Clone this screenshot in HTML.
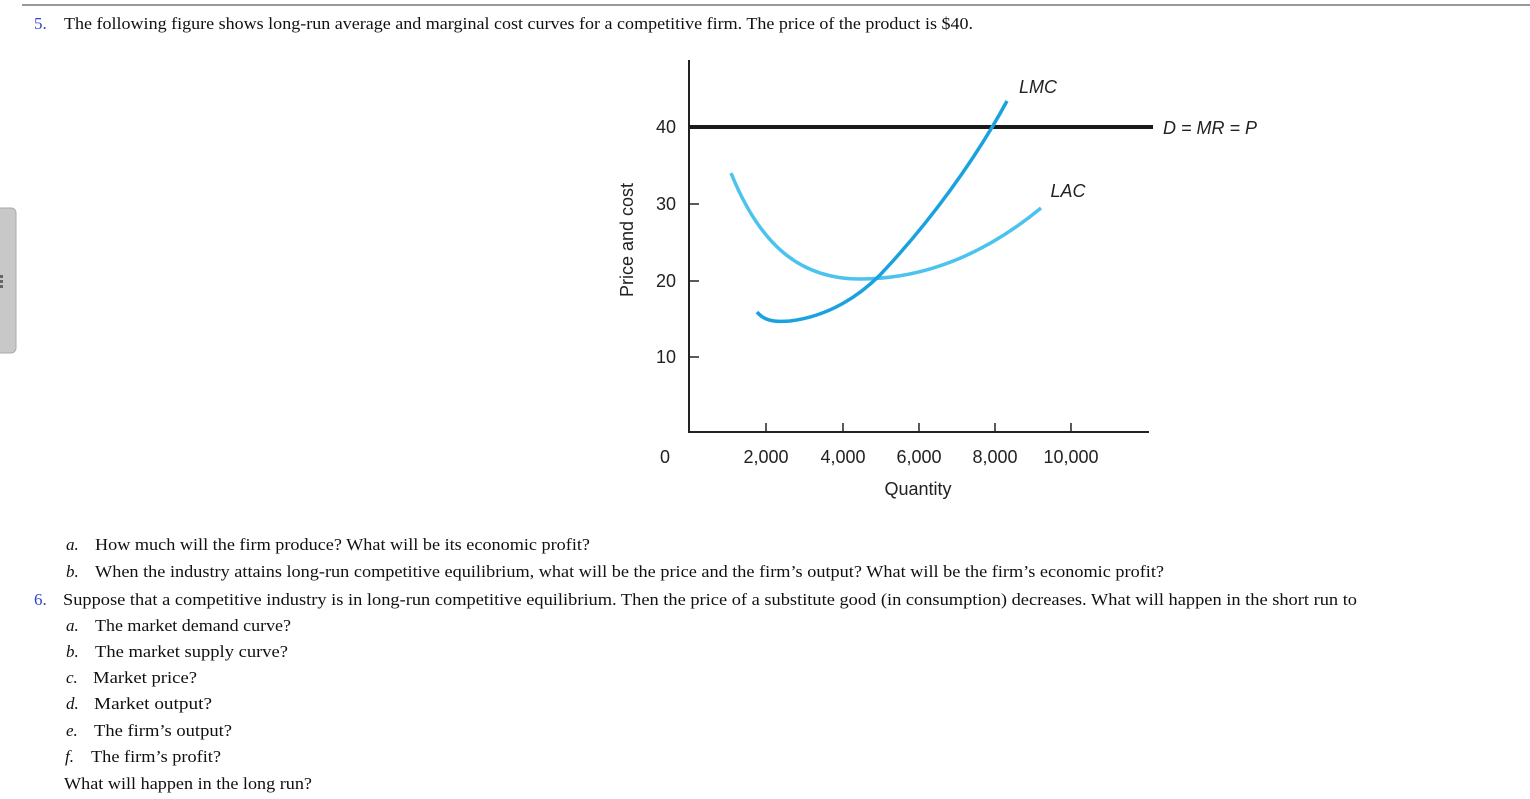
<!DOCTYPE html>
<html><head><meta charset="utf-8"><style>
html,body{margin:0;padding:0;background:#fff;}
svg{display:block;}
.s{font-family:"Liberation Serif",serif;font-size:17px;fill:#111;}
.n{font-family:"Liberation Sans",sans-serif;font-size:18px;fill:#222;}
.i{font-style:italic;}
</style></head><body>
<svg width="1530" height="799" viewBox="0 0 1530 799" xmlns="http://www.w3.org/2000/svg">
<line x1="22" y1="5" x2="1530" y2="5" stroke="#999" stroke-width="2"/>
<rect x="-8" y="208" width="24" height="145" rx="5" fill="#c8c8c8" stroke="#aaa"/>
<g fill="#666"><rect x="0" y="275" width="3" height="3"/><rect x="0" y="280" width="3" height="3"/><rect x="0" y="285" width="3" height="3"/></g>
<text x="34" y="29" class="s" style="fill:#3344cc">5.</text>
<text x="64" y="29" class="s" textLength="909" lengthAdjust="spacingAndGlyphs">The following figure shows long-run average and marginal cost curves for a competitive firm. The price of the product is $40.</text>

<line x1="689" y1="60" x2="689" y2="433" stroke="#222" stroke-width="2"/>
<line x1="688" y1="432" x2="1149" y2="432" stroke="#222" stroke-width="2"/>
<g stroke="#222" stroke-width="1.5">
<line x1="689" y1="204" x2="699" y2="204"/><line x1="689" y1="281" x2="699" y2="281"/><line x1="689" y1="357" x2="699" y2="357"/>
<line x1="766" y1="423" x2="766" y2="432"/><line x1="843" y1="423" x2="843" y2="432"/><line x1="919" y1="423" x2="919" y2="432"/><line x1="995" y1="423" x2="995" y2="432"/><line x1="1071" y1="423" x2="1071" y2="432"/>
</g>
<line x1="689" y1="127" x2="1153" y2="127" stroke="#1a1a1a" stroke-width="4"/>
<path d="M731,173 C760,245 800,279 860,279 C930,279 990,250 1041,208" fill="none" stroke="#4cc3ef" stroke-width="3.5"/>
<path d="M757,312 C765,322 778,322 790,321 C830,316 860,295 880,275 C930,222 975,160 1007,101" fill="none" stroke="#1aa2e0" stroke-width="3.5"/>
<text x="676" y="133" class="n" text-anchor="end">40</text>
<text x="676" y="210" class="n" text-anchor="end">30</text>
<text x="676" y="287" class="n" text-anchor="end">20</text>
<text x="676" y="363" class="n" text-anchor="end">10</text>
<text x="665" y="463" class="n" text-anchor="middle">0</text>
<text x="766" y="463" class="n" text-anchor="middle">2,000</text>
<text x="843" y="463" class="n" text-anchor="middle">4,000</text>
<text x="919" y="463" class="n" text-anchor="middle">6,000</text>
<text x="995" y="463" class="n" text-anchor="middle">8,000</text>
<text x="1071" y="463" class="n" text-anchor="middle">10,000</text>
<text x="918" y="495" class="n" text-anchor="middle">Quantity</text>
<text transform="translate(633,240) rotate(-90)" class="n" text-anchor="middle">Price and cost</text>
<text x="1038" y="93" class="n i" text-anchor="middle">LMC</text>
<text x="1068" y="197" class="n i" text-anchor="middle">LAC</text>
<text x="1163" y="134" class="n i">D = MR = P</text>

<text x="66" y="550" class="s i">a.</text>
<text x="95" y="550" class="s" textLength="495" lengthAdjust="spacingAndGlyphs">How much will the firm produce? What will be its economic profit?</text>
<text x="66" y="577" class="s i">b.</text>
<text x="95" y="577" class="s" textLength="1069" lengthAdjust="spacingAndGlyphs">When the industry attains long-run competitive equilibrium, what will be the price and the firm’s output? What will be the firm’s economic profit?</text>
<text x="34" y="605" class="s" style="fill:#3344cc">6.</text>
<text x="63" y="605" class="s" textLength="1294" lengthAdjust="spacingAndGlyphs">Suppose that a competitive industry is in long-run competitive equilibrium. Then the price of a substitute good (in consumption) decreases. What will happen in the short run to</text>
<text x="66" y="631" class="s i">a.</text>
<text x="95" y="631" class="s" textLength="196" lengthAdjust="spacingAndGlyphs">The market demand curve?</text>
<text x="66" y="657" class="s i">b.</text>
<text x="95" y="657" class="s" textLength="193" lengthAdjust="spacingAndGlyphs">The market supply curve?</text>
<text x="66" y="683" class="s i">c.</text>
<text x="93" y="683" class="s" textLength="104" lengthAdjust="spacingAndGlyphs">Market price?</text>
<text x="66" y="709" class="s i">d.</text>
<text x="94" y="709" class="s" textLength="118" lengthAdjust="spacingAndGlyphs">Market output?</text>
<text x="66" y="736" class="s i">e.</text>
<text x="94" y="736" class="s" textLength="138" lengthAdjust="spacingAndGlyphs">The firm’s output?</text>
<text x="65" y="762" class="s i">f.</text>
<text x="91" y="762" class="s" textLength="130" lengthAdjust="spacingAndGlyphs">The firm’s profit?</text>
<text x="64" y="789" class="s" textLength="248" lengthAdjust="spacingAndGlyphs">What will happen in the long run?</text>
</svg>
</body></html>
